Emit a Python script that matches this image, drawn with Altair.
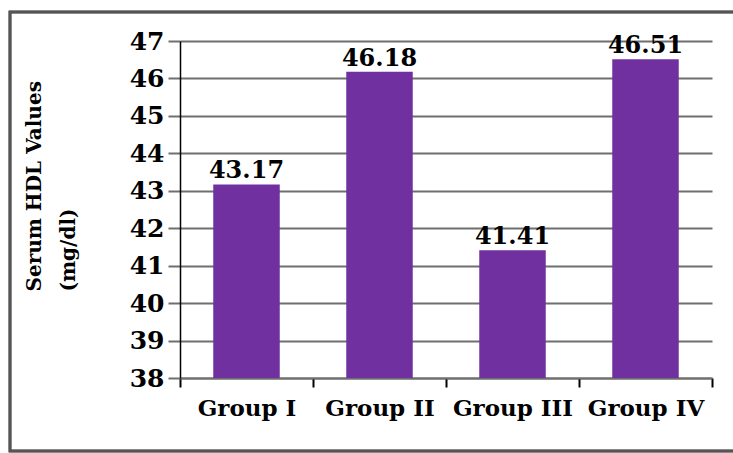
import altair as alt
import pandas as pd

groups = ["Group I", "Group II", "Group III", "Group IV"]
hdl_values = [43.17, 46.18, 41.41, 46.51]
y_ticks = [38, 39, 40, 41, 42, 43, 44, 45, 46, 47]
y_floor = 38

df = pd.DataFrame({"group": groups, "hdl": hdl_values})

FONT = "DejaVu Serif"
PURPLE = "#7030A0"
GRID = "#6f6f6f"

x_axis = alt.Axis(
    title=None,
    tickBand="extent",
    tickColor="black",
    tickWidth=2,
    tickSize=9,
    domainColor=GRID,
    domainWidth=2,
    labelFont=FONT,
    labelFontWeight="bold",
    labelFontSize=23,
    labelColor="black",
    labelPadding=10,
    labelAngle=0,
    labelOverlap=False,
)

y_axis = alt.Axis(
    values=y_ticks,
    title=["Serum HDL Values", "(mg/dl)"],
    titleFont=FONT,
    titleFontWeight="bold",
    titleFontSize=20,
    titleColor="black",
    titleAngle=270,
    titleAlign="left",
    titleBaseline="bottom",
    titleLineHeight=34,
    titleX=-136,
    titleY=250,
    grid=True,
    gridColor=GRID,
    gridWidth=2,
    tickColor=GRID,
    tickWidth=2,
    tickSize=12,
    domainColor="black",
    domainWidth=1.5,
    labelFont=FONT,
    labelFontWeight="bold",
    labelFontSize=25,
    labelColor="black",
    labelPadding=4,
    labelOverlap=False,
    format="d",
)

x_scale = alt.Scale(paddingInner=0, paddingOuter=0)
y_scale = alt.Scale(domain=[38, 47], nice=False, zero=False)

bars = alt.Chart(df).mark_bar(color=PURPLE, width=alt.RelativeBandSize(0.5)).encode(
    x=alt.X("group:N", sort=groups, scale=x_scale, axis=x_axis),
    y=alt.Y("hdl:Q", scale=y_scale, axis=y_axis),
    y2=alt.datum(y_floor),
)

labels = alt.Chart(df).mark_text(
    font=FONT, fontWeight="bold", fontSize=24, color="black",
    baseline="bottom", dy=-1,
).encode(
    x=alt.X("group:N", sort=groups, scale=x_scale, axis=x_axis),
    y=alt.Y("hdl:Q", scale=y_scale, axis=y_axis),
    text=alt.Text("hdl:Q", format=".2f"),
)

# outer frame around the whole figure
frame = alt.Chart(df).mark_rect(
    fill=None, stroke="#555555", strokeWidth=2.5, clip=False
).encode(
    x=alt.value(-170), x2=alt.value(560),
    y=alt.value(-29), y2=alt.value(410),
)

chart = (
    alt.layer(frame, bars, labels)
    .properties(
        width=532,
        height=337,
        autosize=alt.AutoSizeParams(type="none"),
        padding={"left": 180, "top": 41, "right": 21, "bottom": 75},
        background="white",
    )
    .configure_view(stroke=None)
)

chart.save("out.html", embed_options={"renderer": "svg", "actions": False})
